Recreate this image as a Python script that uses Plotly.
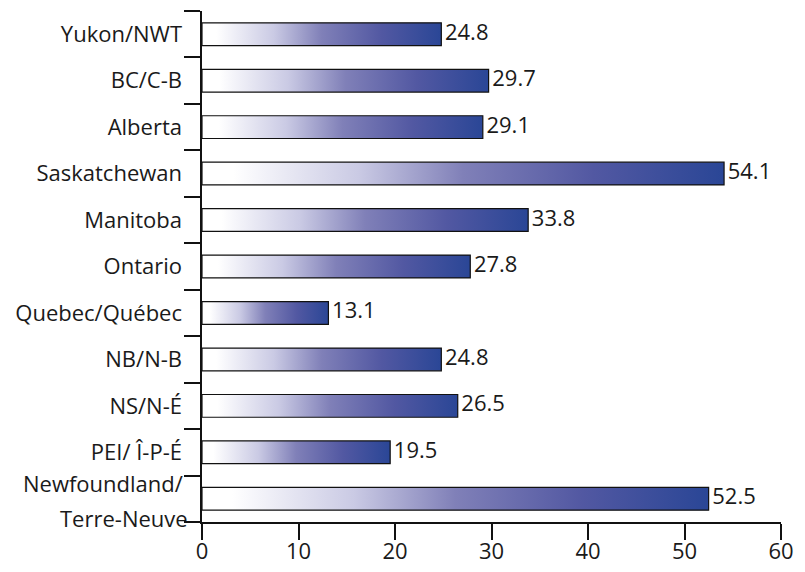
import plotly.graph_objects as go

categories = ["Yukon/NWT", "BC/C-B", "Alberta", "Saskatchewan", "Manitoba", "Ontario",
              "Quebec/Québec", "NB/N-B", "NS/N-É", "PEI/ Î-P-É", "Newfoundland/<br>Terre-Neuve"]
values = [24.8, 29.7, 29.1, 54.1, 33.8, 27.8, 13.1, 24.8, 26.5, 19.5, 52.5]
x_ticks = [0, 10, 20, 30, 40, 50, 60]

FONT = "Open Sans"
TXT = "#1a1a1a"
FS = 22
half = 0.245
grad = [[0, "rgb(255,255,255)"], [0.06, "rgb(255,255,255)"], [0.3, "rgb(202,202,228)"],
        [0.5, "rgb(128,128,184)"], [0.75, "rgb(82,88,162)"], [1, "rgb(42,70,150)"]]

fig = go.Figure()
for i, v in enumerate(values):
    fig.add_trace(go.Scatter(
        x=[0, v, v, 0, 0], y=[i - half, i - half, i + half, i + half, i - half],
        mode="lines", fill="toself", line=dict(color="#111", width=1.2),
        fillgradient=dict(type="horizontal", colorscale=grad),
        hoverinfo="skip", showlegend=False))

fig.add_trace(go.Scatter(
    x=values, y=list(range(len(values))), mode="text",
    text=["\u2009" + f"{v:.1f}" for v in values], textposition="middle right",
    textfont=dict(family=FONT, size=FS, color=TXT), showlegend=False, hoverinfo="skip"))

# labels on a second y axis (centered), ticks at band boundaries on the first
fig.add_trace(go.Scatter(x=[None], y=[None], yaxis="y2", showlegend=False))

n = len(categories)
ticktext = [c if "<br>" not in c else "" for c in categories]
# page body has an 8px margin: size the figure so the plot area lands where the reference has it
fig.update_layout(
    width=789, height=556,
    margin=dict(l=194, r=16, t=3, b=42),
    paper_bgcolor="white", plot_bgcolor="white",
    font=dict(family=FONT, size=FS, color=TXT),
    xaxis=dict(range=[0, 60], tickvals=x_ticks, ticks="outside", ticklen=16, tickwidth=1.5,
               tickcolor="#111", showline=True, linecolor="#111", linewidth=2,
               showgrid=False, zeroline=False, automargin=False, ticklabelstandoff=-7,
               tickfont=dict(size=FS, color=TXT)),
    yaxis=dict(range=[n - 0.5, -0.5], tickvals=[k - 0.5 for k in range(n + 1)],
               ticktext=[""] * (n + 1), ticks="outside", ticklen=16, tickwidth=1.5,
               tickcolor="#111", showline=True, linecolor="#111", linewidth=2,
               showgrid=False, zeroline=False, automargin=False),
    yaxis2=dict(range=[n - 0.5, -0.5], overlaying="y", side="left", tickvals=list(range(n)),
                ticktext=ticktext, ticks="", showline=False, showgrid=False, zeroline=False,
                automargin=False, ticklabelstandoff=19, tickfont=dict(size=FS, color=TXT)),
)
nf = categories[-1].split("<br>")
fig.add_annotation(xref="paper", yref="y", x=0, y=n - 1 - 0.35, text=nf[0], xanchor="right",
                   yanchor="middle", xshift=-17, showarrow=False, font=dict(size=FS, color=TXT))
fig.add_annotation(xref="paper", yref="y", x=0, y=n - 1 + 0.42, text=nf[1], xanchor="right",
                   yanchor="middle", xshift=-12, showarrow=False, font=dict(size=FS, color=TXT))

fig.write_html("out.html")
